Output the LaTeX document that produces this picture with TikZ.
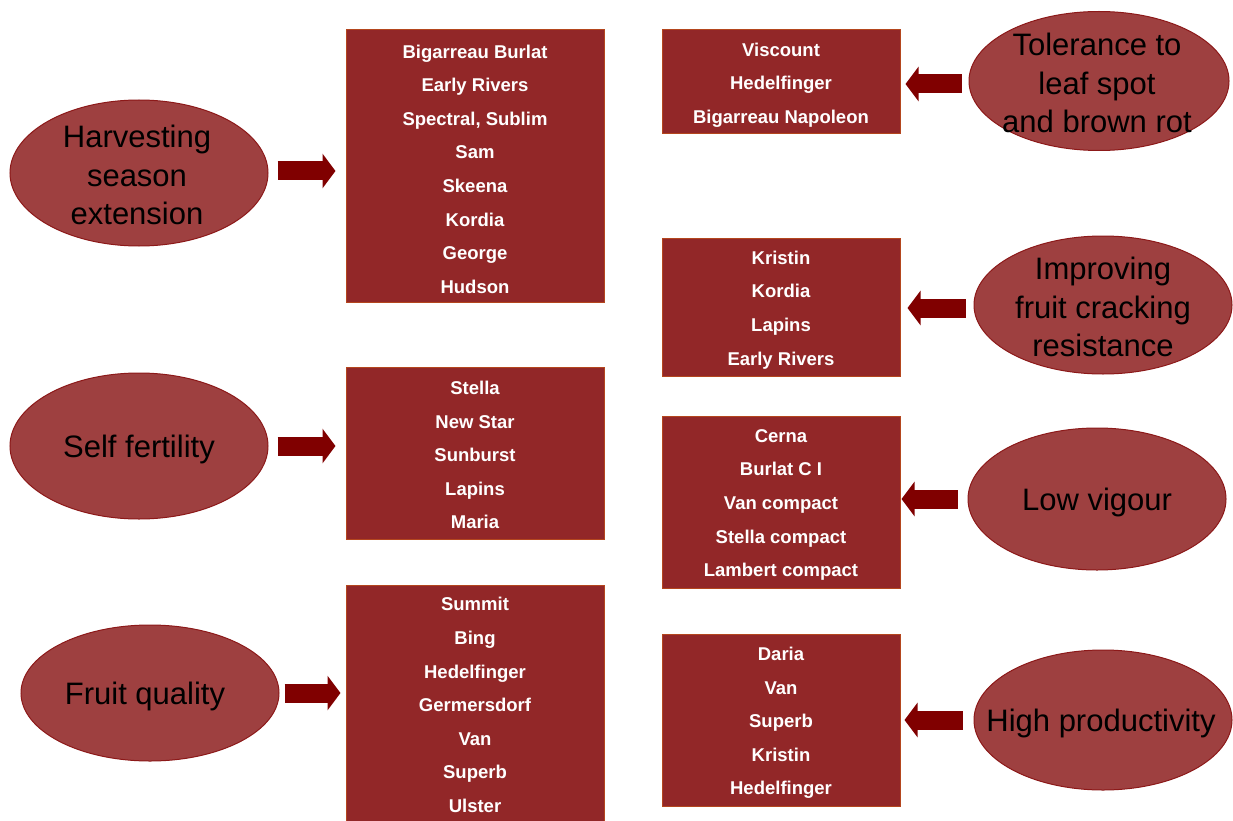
\documentclass[tikz,border=0pt]{standalone}
\usepackage{fontspec}
\setmainfont{Liberation Sans}
\usetikzlibrary{shapes.geometric,arrows.meta}
\definecolor{ellfill}{RGB}{158,64,64}
\definecolor{ellline}{RGB}{140,25,25}
\definecolor{boxfill}{RGB}{146,39,40}
\definecolor{boxline}{RGB}{180,70,30}
\definecolor{arrowc}{RGB}{128,0,0}
\tikzset{
  goal/.style={ellipse, draw=ellline, line width=1pt, fill=ellfill, inner sep=0pt, minimum width=258pt},
  goaltext/.style={font=\fontsize{31}{38.5}\selectfont, align=center, text=black, inner sep=0pt},
  variety/.style={rectangle, draw=boxline, line width=1pt, fill=boxfill, inner sep=0pt},
  boxtext/.style={font=\fontsize{18.5}{33.6}\bfseries\selectfont, text=white, align=center, inner sep=0pt},
  leftbox/.style={variety, minimum width=258pt},
  rightbox/.style={variety, minimum width=238pt},
  fat/.style={draw=arrowc, line width=19pt, -{Triangle[length=13pt, width=34pt]}}
}
\begin{document}
\begin{tikzpicture}[x=1pt,y=-1pt]
\useasboundingbox (0,0) rectangle (1233,821);

% left ellipses
\node[goal, minimum height=146pt] (e1) at (139,173) {};
\node[goaltext] (e1t) at (137,175) {Harvesting\\season\\extension};
\node[goal, minimum height=146pt] (e2) at (139,446) {};
\node[goaltext] (e2t) at (139,449) {Self fertility};
\node[goal, minimum height=136pt] (e3) at (150,693) {};
\node[goaltext] (e3t) at (145,696) {Fruit quality};

% right ellipses
\node[goal, minimum width=260pt, minimum height=139pt] (e4) at (1099,81) {};
\node[goaltext] (e4t) at (1097,83) {Tolerance to\\leaf spot\\and brown rot};
\node[goal, minimum height=138pt] (e5) at (1103,305) {};
\node[goaltext] (e5t) at (1103,307) {Improving\\fruit cracking\\resistance};
\node[goal, minimum height=142pt] (e6) at (1097,499) {};
\node[goaltext] (e6t) at (1097,502) {Low vigour};
\node[goal, minimum height=140pt] (e7) at (1103,720) {};
\node[goaltext] (e7t) at (1101,723) {High productivity};

% left boxes
\node[leftbox, minimum height=272pt] (b1) at (475,166) {};
\node[boxtext] (b1t) at (475,169)
  {Bigarreau Burlat\\Early Rivers\\Spectral, Sublim\\Sam\\Skeena\\Kordia\\George\\Hudson};
\node[leftbox, minimum height=172pt] (b2) at (475,453) {};
\node[boxtext] (b2t) at (475,455)
  {Stella\\New Star\\Sunburst\\Lapins\\Maria};
\node[leftbox, minimum height=238pt] (b3) at (475,704) {};
\node[boxtext] (b3t) at (475,705)
  {Summit\\Bing\\Hedelfinger\\Germersdorf\\Van\\Superb\\Ulster};

% right boxes
\node[rightbox, minimum height=104pt] (b4) at (781,82) {};
\node[boxtext] (b4t) at (781,85)
  {Viscount\\Hedelfinger\\Bigarreau Napoleon};
\node[rightbox, minimum height=138pt] (b5) at (781,307) {};
\node[boxtext] (b5t) at (781,310)
  {Kristin\\Kordia\\Lapins\\Early Rivers};
\node[rightbox, minimum height=172pt] (b6) at (781,502) {};
\node[boxtext] (b6t) at (781,505)
  {Cerna\\Burlat C I\\Van compact\\Stella compact\\Lambert compact};
\node[rightbox, minimum height=172pt] (b7) at (781,720) {};
\node[boxtext] (b7t) at (781,723)
  {Daria\\Van\\Superb\\Kristin\\Hedelfinger};

% arrows
\draw[fat, shorten <=9pt, shorten >=10pt] ([yshift=2pt]e1.east) -- ([yshift=2pt]e1.east -| b1.west);
\draw[fat, shorten <=9pt, shorten >=10pt] (e2.east) -- (e2.east -| b2.west);
\draw[fat, shorten <=5pt, shorten >=5pt] (e3.east) -- (e3.east -| b3.west);
\draw[fat, shorten <=7pt, shorten >=5pt] ([yshift=-3pt]e4.west) -- ([yshift=-3pt]e4.west -| b4.east);
\draw[fat, shorten <=8pt, shorten >=7pt] ([yshift=-3pt]e5.west) -- ([yshift=-3pt]e5.west -| b5.east);
\draw[fat, shorten <=10pt, shorten >=1pt] (e6.west) -- (e6.west -| b6.east);
\draw[fat, shorten <=11pt, shorten >=4pt] (e7.west) -- (e7.west -| b7.east);
\end{tikzpicture}
\end{document}
